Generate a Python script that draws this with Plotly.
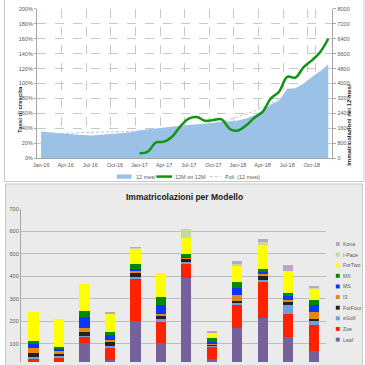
import numpy as np
import plotly.graph_objects as go

W = H = 365

# ---------------- data: top chart ----------------
months = ["Jan-16", "Feb-16", "Mar-16", "Apr-16", "May-16", "Jun-16",
          "Jul-16", "Aug-16", "Sep-16", "Oct-16", "Nov-16", "Dec-16",
          "Jan-17", "Feb-17", "Mar-17", "Apr-17", "May-17", "Jun-17",
          "Jul-17", "Aug-17", "Sep-17", "Oct-17", "Nov-17", "Dec-17",
          "Jan-18", "Feb-18", "Mar-18", "Apr-18", "May-18", "Jun-18",
          "Jul-18", "Aug-18", "Sep-18", "Oct-18", "Nov-18", "Dec-18"]
month_ticks = ["Jan-16", "Apr-16", "Jul-16", "Oct-16", "Jan-17", "Apr-17",
               "Jul-17", "Oct-17", "Jan-18", "Apr-18", "Jul-18", "Oct-18"]

# registrations in the last 12 months (right axis)
reg_12m = [1420, 1400, 1340, 1300, 1280, 1250, 1210, 1240, 1280, 1310, 1350, 1390,
           1490, 1530, 1580, 1620, 1680, 1730, 1780, 1820, 1870, 1910, 1950, 1990,
           2020, 2130, 2300, 2550, 2870, 3080, 3720, 3750, 4000, 4350, 4650, 5010]

# growth 12M on 12M, percent (left axis)
growth_pct = [None] * 12 + [
    6.5, 8.5, 21, 22, 29, 43, 53, 55, 50, 51, 52, 39,
    37, 44, 54, 62, 80, 89, 109, 108, 122, 131, 142, 160]

# ---------------- data: bottom chart ----------------
bar_months = ["Jan-18", "Feb-18", "Mar-18", "Apr-18", "May-18", "Jun-18",
              "Jul-18", "Aug-18", "Sep-18", "Oct-18", "Nov-18", "Dec-18"]
models = ["Leaf", "Zoe", "eGolf", "ForFour", "I3", "MS", "MX", "ForTwo", "I-Pace", "Kona"]
leaf    = [8, 12, 103, 28, 200, 103, 391, 33, 169, 217, 133, 68]
zoe     = [27, 29, 29, 58, 187, 99, 68, 58, 103, 163, 98, 116]
egolf   = [8, 7, 5, 3, 11, 7, 5, 4, 9, 4, 44, 16]
forfour = [18, 6, 18, 18, 15, 18, 14, 3, 11, 17, 12, 13]
i3      = [21, 14, 14, 12, 14, 8, 7, 4, 26, 9, 10, 28]
ms      = [18, 10, 51, 22, 7, 40, 6, 7, 30, 11, 14, 32]
mx      = [12, 9, 28, 13, 22, 33, 8, 18, 29, 10, 17, 22]
fortwo  = [131, 124, 117, 83, 67, 105, 71, 23, 70, 109, 94, 52]
ipace   = [0, 0, 0, 0, 5, 0, 40, 0, 10, 15, 0, 2]
kona    = [0, 0, 0, 2, 2, 0, 0, 8, 12, 11, 30, 10]
series = [leaf, zoe, egolf, forfour, i3, ms, mx, fortwo, ipace, kona]
colors = ["#77619A", "#FF2200", "#6FA0DC", "#222222", "#E9860F",
          "#0A36FF", "#008A00", "#FFFF00", "#C6D9A0", "#B8A8C8"]

AREA = "#9BC2E6"
GREEN = "#129412"
TREND = "#A9C8EA"
TXT = "#595959"
FONT = "Liberation Sans"


def px(x):
    return x / W


def py(y):
    return 1 - y / H


fig = go.Figure()

# ----- top chart -----
fig.add_trace(go.Scatter(x=months, y=reg_12m, name="12 mesi", mode="lines",
                         line=dict(width=0, color=AREA), fill="tozeroy",
                         fillcolor=AREA, xaxis="x", yaxis="y", showlegend=False))
idx = np.arange(1, len(reg_12m) + 1)
trend = np.polyval(np.polyfit(idx, reg_12m, 3), idx)
fig.add_trace(go.Scatter(x=months, y=trend, name="Poli. (12 mesi)", mode="lines",
                         line=dict(color=TREND, width=1, dash="3px,2px"),
                         xaxis="x", yaxis="y", showlegend=False))
fig.add_trace(go.Scatter(x=months,
                         y=[g / 100 if g is not None else None for g in growth_pct],
                         name="12M on 12M", mode="lines",
                         line=dict(color=GREEN, width=2.5, shape="spline"),
                         xaxis="x", yaxis="y2", showlegend=False))

# ----- bottom chart -----
for name, vals, col in zip(models, series, colors):
    fig.add_trace(go.Bar(x=bar_months, y=vals, name=name, marker=dict(color=col, line=dict(width=0)),
                         xaxis="x3", yaxis="y3", showlegend=False))

tickfont = dict(family=FONT, size=5.5, color=TXT)

shapes = [
    # top chart frame
    dict(type="rect", xref="paper", yref="paper", x0=px(0.5), x1=px(364), y0=py(181.5), y1=1.02,
         line=dict(color="#C8C8C8", width=1), fillcolor="white", layer="below"),
    # bottom chart frame
    dict(type="rect", xref="paper", yref="paper", x0=px(1.5), x1=px(362.5), y0=-0.02, y1=py(184),
         line=dict(color="#C8C8C8", width=1), fillcolor="#EBEBEB", layer="below"),
]
annotations = [
    dict(text="<b>Tassi di crescita</b>", xref="paper", yref="paper", x=px(11), y=py(82),
         textangle=-90, showarrow=False, font=dict(family=FONT, size=6, color="#262626")),
    dict(text="<b>Immatricolazioni nei 12 mesi</b>", xref="paper", yref="paper", x=px(354), y=py(80),
         textangle=-90, showarrow=False, font=dict(family=FONT, size=6, color="#262626")),
    dict(text="<b>Immatricolazioni per Modello</b>", xref="paper", yref="paper", x=px(182), y=py(197),
         showarrow=False, font=dict(family=FONT, size=8.5, color="#1A1A1A")),
]

# top legend (manual, compact like the original)
ly = 176.5
shapes.append(dict(type="rect", xref="paper", yref="paper", x0=px(114), x1=px(129),
                   y0=py(ly + 2.2), y1=py(ly - 2.2), fillcolor=AREA, line=dict(width=0)))
shapes.append(dict(type="line", xref="paper", yref="paper", x0=px(154), x1=px(170),
                   y0=py(ly), y1=py(ly), line=dict(color=GREEN, width=2.5)))
shapes.append(dict(type="line", xref="paper", yref="paper", x0=px(208), x1=px(219),
                   y0=py(ly), y1=py(ly), line=dict(color=TREND, width=1, dash="3px,2px")))
for lbl, lx in [("12 mesi", 131), ("12M on 12M", 171), ("Poli. (12 mesi)", 221)]:
    annotations.append(dict(text=lbl, xref="paper", yref="paper", x=px(lx), y=py(ly),
                            xanchor="left", yanchor="middle", showarrow=False,
                            font=dict(family=FONT, size=5.5, color=TXT)))

# bottom legend (manual, compact)
y0 = 245.0
step = 10.8
for i, (name, col) in enumerate(zip(models[::-1], colors[::-1])):
    yy = y0 + i * step
    shapes.append(dict(type="rect", xref="paper", yref="paper", x0=px(335.5), x1=px(339.5),
                       y0=py(yy + 2), y1=py(yy - 2), fillcolor=col, line=dict(width=0)))
    annotations.append(dict(text=name, xref="paper", yref="paper", x=px(341), y=py(yy),
                            xanchor="left", yanchor="middle", showarrow=False,
                            font=dict(family=FONT, size=5.2, color=TXT)))

fig.update_layout(
    width=W, height=H, margin=dict(l=0, r=0, t=0, b=0),
    paper_bgcolor="white", plot_bgcolor="rgba(0,0,0,0)",
    showlegend=False, barmode="stack", bargap=0.6,
    font=dict(family=FONT, size=6, color=TXT),
    shapes=shapes, annotations=annotations,
    xaxis=dict(domain=[px(33.3), px(332)], anchor="y", type="category",
               range=[-0.5, len(months) - 0.5], tickmode="array", tickvals=month_ticks,
               tickson="boundaries", ticks="", showgrid=True, gridcolor="#C8C8C8",
               griddash="dash", gridwidth=1, showline=True, linecolor="#A6A6A6",
               tickfont=tickfont, tickangle=0, ticklabelstandoff=1),
    yaxis=dict(domain=[py(157.7), py(6)], anchor="x", side="right", range=[0, 8000],
               tick0=0, dtick=800, showgrid=True, gridcolor="#C8C8C8", griddash="dash",
               zeroline=False, showline=True, linecolor="#A6A6A6", ticks="outside",
               ticklen=3, tickcolor="#A6A6A6", tickfont=tickfont),
    yaxis2=dict(overlaying="y", anchor="x", side="left", range=[0, 2], tick0=0, dtick=0.2,
                tickformat=".0%", showgrid=False, zeroline=False, showline=True,
                linecolor="#A6A6A6", ticks="outside", ticklen=2, tickcolor="#A6A6A6",
                tickfont=tickfont),
    xaxis3=dict(domain=[px(17), px(326)], anchor="y3", type="category",
                showticklabels=False, showgrid=False, ticks="", showline=False),
    yaxis3=dict(domain=[0, py(209.3)], anchor="x3", range=[20, 700], tick0=0, dtick=100,
                showgrid=True, gridcolor="#BDBDBD", gridwidth=1, zeroline=False,
                showline=True, linecolor="#A6A6A6", ticks="", tickfont=tickfont),
)

fig.write_html("out.html", config={"displayModeBar": False},
               post_script="document.body.style.margin='0';document.body.style.overflow='hidden';")
